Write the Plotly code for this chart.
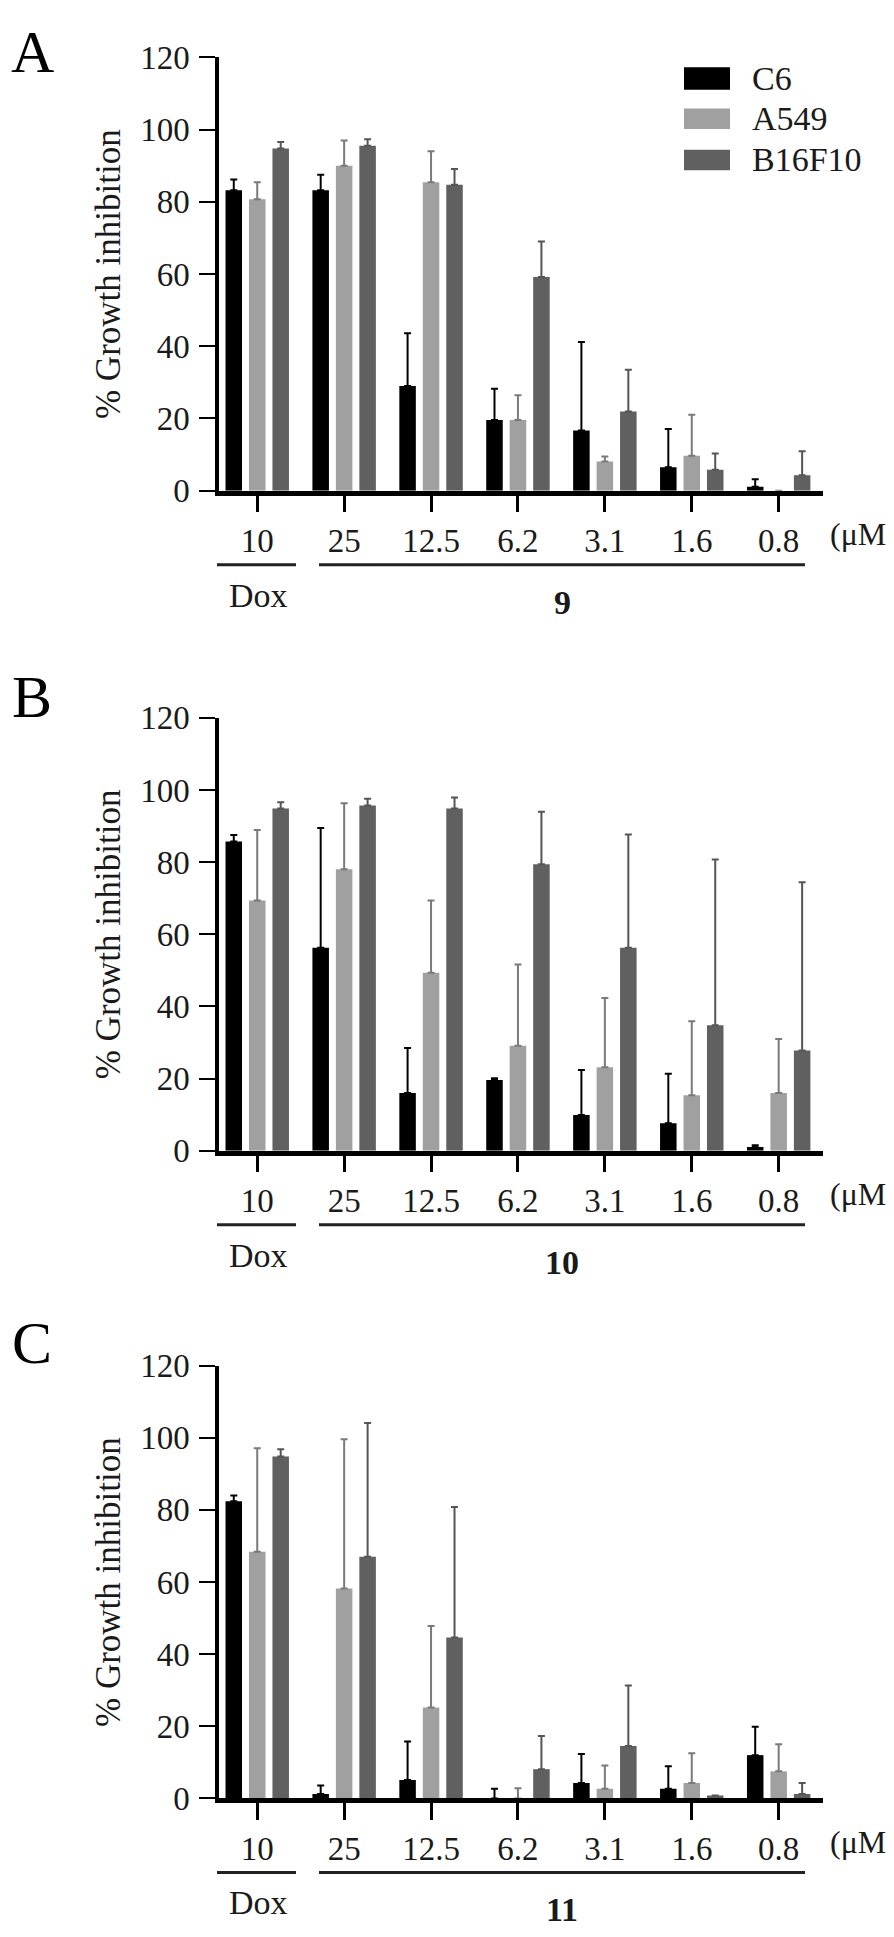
import plotly.graph_objects as go

W, H = 894, 1937

# ---------------- data ----------------
conc_labels = ["10", "25", "12.5", "6.2", "3.1", "1.6", "0.8"]
cell_lines = ["C6", "A549", "B16F10"]
compounds = ["9", "10", "11"]
panel_letters = ["A", "B", "C"]

# Panel A (compound 9): mean % growth inhibition and upper SD
a_c6 = [83.2, 83.2, 29.0, 19.6, 16.7, 6.5, 1.1]
a_c6_sd = [3.0, 4.3, 14.6, 8.6, 24.5, 10.6, 2.1]
a_a549 = [80.7, 90.0, 85.4, 19.6, 8.1, 9.7, 0.0]
a_a549_sd = [4.7, 7.0, 8.6, 6.8, 1.4, 11.3, 0.0]
a_b16 = [94.8, 95.5, 84.7, 59.2, 21.9, 5.8, 4.3]
a_b16_sd = [1.8, 1.8, 4.4, 9.8, 11.6, 4.5, 6.6]

# Panel B (compound 10)
b_c6 = [85.7, 56.3, 16.0, 19.6, 9.9, 7.6, 1.0]
b_c6_sd = [1.8, 33.2, 12.5, 0.5, 12.5, 13.7, 0.5]
b_a549 = [69.4, 78.0, 49.3, 29.1, 23.1, 15.4, 16.0]
b_a549_sd = [19.5, 18.3, 20.1, 22.5, 19.2, 20.5, 15.0]
b_b16 = [94.9, 95.7, 94.9, 79.4, 56.3, 34.8, 27.8]
b_b16_sd = [1.7, 1.9, 3.0, 14.6, 31.4, 45.9, 46.6]

# Panel C (compound 11)
c_c6 = [82.4, 1.2, 5.1, 0.0, 4.3, 2.7, 12.0]
c_c6_sd = [1.6, 2.4, 10.7, 2.7, 8.0, 6.2, 7.9]
c_a549 = [68.4, 58.2, 25.2, 0.0, 2.7, 4.3, 7.5]
c_a549_sd = [28.7, 41.4, 22.6, 2.8, 6.4, 8.2, 7.5]
c_b16 = [94.8, 67.0, 44.6, 8.1, 14.5, 0.8, 1.2]
c_b16_sd = [2.0, 37.1, 36.2, 9.2, 16.8, 0.0, 3.1]

y_ticks = [0, 20, 40, 60, 80, 100, 120]

# ---------------- style ----------------
FONT = "Liberation Serif, Times New Roman, Times, serif"
TXT = "#1a1a1a"
colors = ["#000000", "#a0a0a0", "#606060"]
err_colors = ["#000000", "#7a7a7a", "#555555"]
bar_w = 0.19
bar_offsets = [-0.365, -0.095, 0.175]

# pixel geometry of each panel: (top of 120, bottom at 0)
panel_px = [(33, 474.5), (706, 1147), (1366, 1807)]
x_left, x_right = 211, 815


def fx(px):
    return px / W


def fy(py):
    return 1 - py / H


means = [[a_c6, a_a549, a_b16], [b_c6, b_a549, b_b16], [c_c6, c_a549, c_b16]]
sds = [[a_c6_sd, a_a549_sd, a_b16_sd], [b_c6_sd, b_a549_sd, b_b16_sd],
       [c_c6_sd, c_a549_sd, c_b16_sd]]

fig = go.Figure()
annotations = []
shapes = []

for p in range(3):
    sfx = "" if p == 0 else str(p + 1)
    xa, ya = "x" + sfx, "y" + sfx
    top, bot = panel_px[p]
    for s in range(3):
        fig.add_trace(go.Bar(
            x=conc_labels, y=means[p][s], name=cell_lines[s],
            xaxis=xa, yaxis=ya, width=bar_w, offset=bar_offsets[s],
            marker=dict(color=colors[s], line=dict(width=0)),
            error_y=dict(type="data", symmetric=False, array=sds[p][s],
                         arrayminus=[0] * len(sds[p][s]),
                         color=err_colors[s], thickness=2, width=3.5),
            showlegend=False,
        ))
    fig.layout["xaxis" + sfx] = dict(
        domain=[fx(x_left), fx(x_right)], anchor=ya, type="category",
        range=[-0.44, 6.51], showline=True, linewidth=4.5, linecolor="black",
        ticks="outside", ticklen=17, tickwidth=2.5, tickcolor="black",
        tickfont=dict(family=FONT, size=33, color=TXT), showgrid=False,
        zeroline=False, fixedrange=True,
    )
    fig.layout["yaxis" + sfx] = dict(
        domain=[fy(bot), fy(top)], anchor=xa, range=[0, 120],
        tickvals=y_ticks, showline=True, linewidth=3.5, linecolor="black",
        ticks="outside", ticklen=16, tickwidth=2, tickcolor="black",
        ticklabelstandoff=3,
        tickfont=dict(family=FONT, size=33, color=TXT), showgrid=False,
        zeroline=False, fixedrange=True,
    )
    zero = bot + 2.5
    # panel letter
    letter_y = [28, 685, 1343][p]
    annotations.append(dict(text=panel_letters[p], x=fx(24), y=fy(letter_y),
                            xref="paper", yref="paper", showarrow=False,
                            xanchor="center", yanchor="middle",
                            font=dict(family=FONT, size=60, color="black")))
    # y title
    annotations.append(dict(text="% Growth inhibition", x=fx(100),
                            y=fy((top + bot) / 2), xref="paper", yref="paper",
                            showarrow=False, textangle=-90,
                            xanchor="center", yanchor="middle",
                            font=dict(family=FONT, size=35, color=TXT)))
    # unit
    annotations.append(dict(text="(μM)", x=fx(891), y=fy(zero + 42),
                            xref="paper", yref="paper", showarrow=False,
                            xanchor="right", yanchor="middle",
                            font=dict(family=FONT, size=32, color=TXT)))
    # group lines
    for x0, x1 in [(209, 288), (311, 797)]:
        shapes.append(dict(type="line", xref="paper", yref="paper",
                           x0=fx(x0), x1=fx(x1), y0=fy(zero + 73), y1=fy(zero + 73),
                           line=dict(color="#222222", width=3)))
    annotations.append(dict(text="Dox", x=fx(250), y=fy(zero + 104),
                            xref="paper", yref="paper", showarrow=False,
                            xanchor="center", yanchor="middle",
                            font=dict(family=FONT, size=34, color=TXT)))
    annotations.append(dict(text="<b>" + compounds[p] + "</b>", x=fx(554),
                            y=fy(zero + 111), xref="paper", yref="paper",
                            showarrow=False, xanchor="center", yanchor="middle",
                            font=dict(family=FONT, size=34, color=TXT)))

# legend (panel A)
leg_rows = [(43, 66), (85, 106), (127, 148)]
for s in range(3):
    y0, y1 = leg_rows[s]
    shapes.append(dict(type="rect", xref="paper", yref="paper",
                       x0=fx(676), x1=fx(722), y0=fy(y1), y1=fy(y0),
                       fillcolor=colors[s], line=dict(width=0)))
    annotations.append(dict(text=cell_lines[s], x=fx(742), y=fy((y0 + y1) / 2),
                            xref="paper", yref="paper", showarrow=False,
                            xanchor="left", yanchor="middle",
                            font=dict(family=FONT, size=34, color=TXT)))

fig.update_layout(
    width=W, height=H, margin=dict(l=0, r=0, t=0, b=0),
    paper_bgcolor="white", plot_bgcolor="white",
    barmode="group", annotations=annotations, shapes=shapes,
    showlegend=False,
)

fig.write_html("out.html")
